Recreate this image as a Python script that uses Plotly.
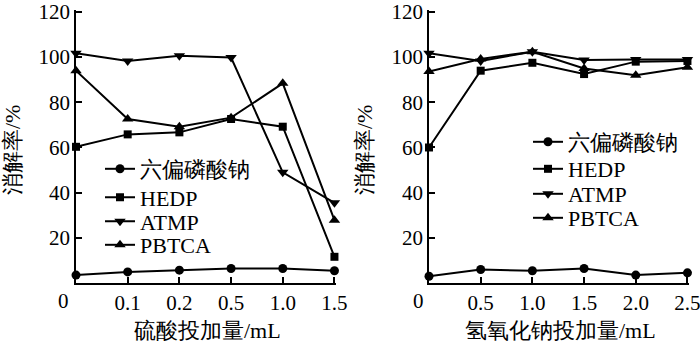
import plotly.graph_objects as go

# ---- data ----
left_cats = ["0", "0.1", "0.2", "0.5", "1.0", "1.5"]
right_cats = ["0", "0.5", "1.0", "1.5", "2.0", "2.5"]
series_names = ["六偏磷酸钠", "HEDP", "ATMP", "PBTCA"]

left_shmp = [3.5, 4.9, 5.7, 6.4, 6.4, 5.4]
left_hedp = [60.3, 65.8, 66.7, 72.6, 69.2, 11.6]
left_atmp = [101.7, 98.3, 100.6, 99.8, 49.0, 35.5]
left_pbtca = [94.0, 72.6, 69.2, 73.2, 88.4, 27.8]

right_shmp = [3.0, 6.0, 5.4, 6.4, 3.5, 4.5]
right_hedp = [60.0, 94.0, 97.5, 92.5, 98.0, 98.3]
right_atmp = [101.7, 98.3, 102.4, 98.7, 99.0, 99.0]
right_pbtca = [93.6, 99.2, 102.4, 95.0, 92.0, 95.5]

y_ticks = [20, 40, 60, 80, 100, 120]
x_title_left = "硫酸投加量/mL"
x_title_right = "氢氧化钠投加量/mL"
y_title = "消解率/%"

symbols = ["circle", "square", "triangle-down", "triangle-up"]
sizes = [9, 8, 10, 10]

FONT = "Liberation Serif, DejaVu Serif, serif"
W, H = 700, 345

# pixel layout
x0L, x1L = 76, 336
x0R, x1R = 429, 689
y_bot, y_top = 283, 9.7


def px(v):
    return v / W


def py(v):
    return 1 - v / H


left_legend_rows = [169, 197.5, 221.5, 245]
right_legend_rows = [142, 169, 194, 218]
left_legend_x = 100
right_legend_x = 528

fig = go.Figure()

left_series = [left_shmp, left_hedp, left_atmp, left_pbtca]
right_series = [right_shmp, right_hedp, right_atmp, right_pbtca]
idx = list(range(len(left_cats)))

legend_layouts = {}
k = 2
for side, series, xa, ya, rows, lx in [
    ("L", left_series, "x", "y", left_legend_rows, left_legend_x),
    ("R", right_series, "x2", "y2", right_legend_rows, right_legend_x),
]:
    for name, vals, sym, sz, ry in zip(series_names, series, symbols, sizes, rows):
        lname = f"legend{k}"
        fig.add_trace(go.Scatter(
            x=idx, y=vals, name=name, mode="lines+markers",
            line=dict(color="black", width=2),
            marker=dict(symbol=sym, size=sz, color="black"),
            xaxis=xa, yaxis=ya, legend=lname, cliponaxis=False,
        ))
        legend_layouts[lname] = dict(
            x=px(lx), y=py(ry), xanchor="left", yanchor="middle",
            bgcolor="rgba(0,0,0,0)", borderwidth=0, visible=True,
            font=dict(family=FONT, size=22, color="black"),
        )
        k += 1

common_x = dict(
    range=[0, 5.03], showgrid=False, zeroline=False, showline=True,
    linecolor="black", linewidth=1.5, ticks="inside", ticklen=6,
    tickwidth=1.5, tickcolor="black", tickvals=idx[1:], automargin=False,
    ticklabeloverflow="allow",
    tickfont=dict(family=FONT, size=21, color="black"),
)
common_y = dict(
    range=[0, 121], showgrid=False, zeroline=False, showline=True,
    linecolor="black", linewidth=1.5, ticks="inside", ticklen=6,
    tickwidth=1.5, tickcolor="black", tickvals=y_ticks, automargin=False,
    tickfont=dict(family=FONT, size=21, color="black"),
    domain=[py(y_bot), py(y_top)],
)


def ann(text, x, y, size=22, angle=0):
    return dict(text=text, x=px(x), y=py(y), xref="paper", yref="paper",
                xanchor="center", yanchor="middle", showarrow=False,
                textangle=angle, font=dict(family=FONT, size=size, color="black"))


fig.update_layout(
    width=W, height=H,
    margin=dict(l=0, r=0, t=0, b=0),
    paper_bgcolor="white", plot_bgcolor="white",
    font=dict(family=FONT, color="black"),
    showlegend=True,
    xaxis=dict(common_x, domain=[px(x0L), px(x1L)], anchor="y",
               ticktext=left_cats[1:]),
    yaxis=dict(common_y, anchor="x"),
    xaxis2=dict(common_x, domain=[px(x0R), px(x1R)], anchor="y2",
                ticktext=right_cats[1:]),
    yaxis2=dict(common_y, anchor="x2"),
    annotations=[
        ann(left_cats[0], 63, 301, 21),
        ann(right_cats[0], 418, 301, 21),
        ann(x_title_left, 207, 330),
        ann(x_title_right, 560, 330),
        ann(y_title, 13, 150, angle=-90),
        ann(y_title, 365, 150, angle=-90),
    ],
    **legend_layouts,
)

fig.write_html("out.html")
